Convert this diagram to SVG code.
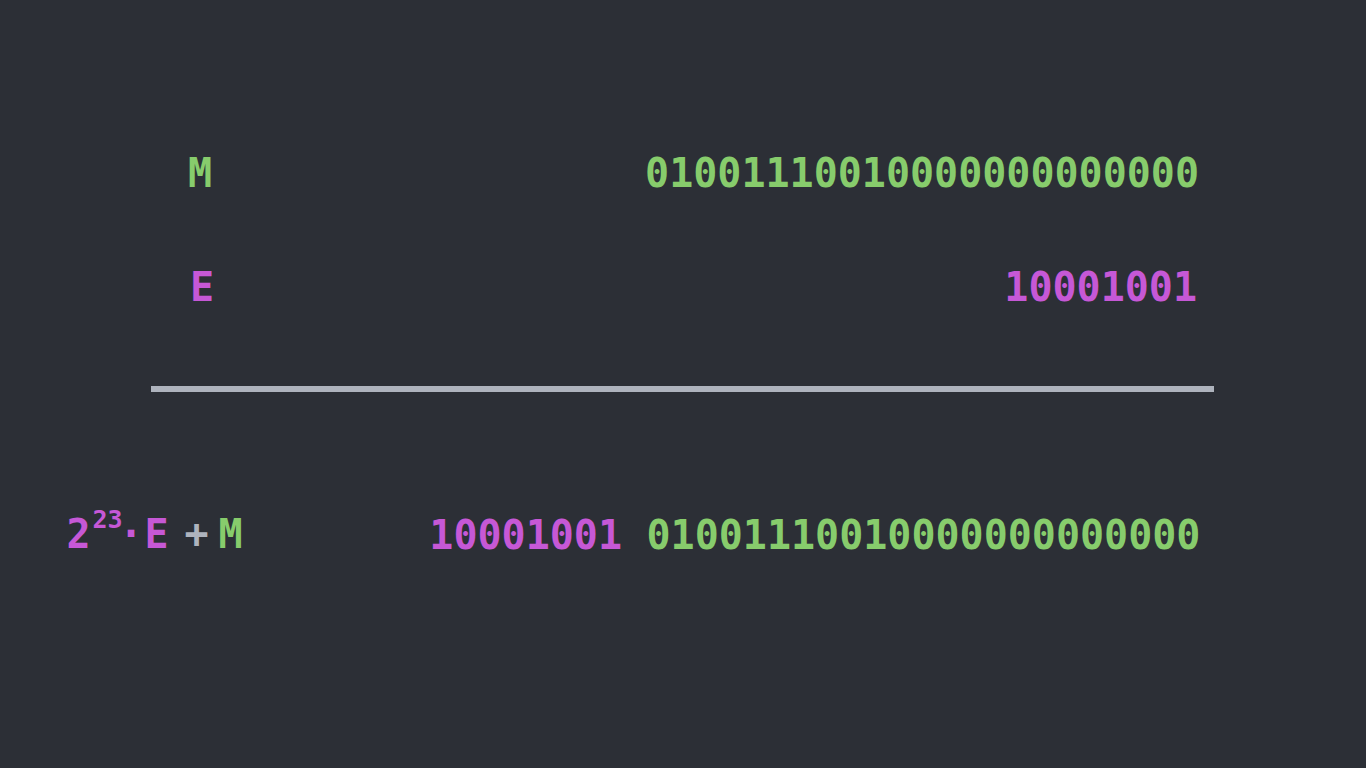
<svg xmlns="http://www.w3.org/2000/svg" width="1366" height="768" viewBox="0 0 1366 768">
<style>
text{font-family:"DejaVu Sans Mono","Liberation Mono",monospace;font-weight:bold;font-size:40px}
.g{fill:#87cc6c}
.p{fill:#c658d6}
.w{fill:#aeb3bd}
.sup{font-size:25px}
</style>
<rect x="0" y="0" width="1366" height="768" fill="#2c2f36"/>
<g id="row-m">
<text class="g" x="200" y="187" text-anchor="middle">M</text>
<text class="g" x="1199" y="187" text-anchor="end">01001110010000000000000</text>
</g>
<g id="row-e">
<text class="p" x="202" y="301" text-anchor="middle">E</text>
<text class="p" x="1197" y="301" text-anchor="end">10001001</text>
</g>
<rect id="rule" x="151" y="386" width="1063" height="6" fill="#aeb3bd"/>
<g id="row-sum">
<text class="p" x="78.5" y="548" text-anchor="middle">2</text>
<text class="p sup" x="107.5" y="528" text-anchor="middle">23</text>
<text class="p" x="131" y="548" text-anchor="middle">·</text>
<text class="p" x="156.5" y="548" text-anchor="middle">E</text>
<text class="w" x="196.5" y="548" text-anchor="middle">+</text>
<text class="g" x="230.5" y="548" text-anchor="middle">M</text>
<text class="p" x="622" y="549" text-anchor="end">10001001</text>
<text class="g" x="646.5" y="549">01001110010000000000000</text>
</g>
</svg>
